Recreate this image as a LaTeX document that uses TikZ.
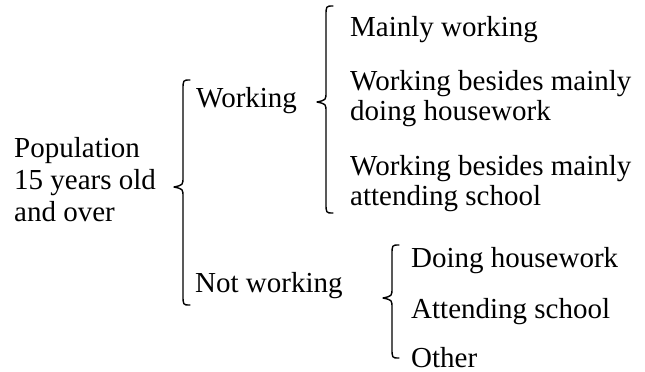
\documentclass[tikz,border=0pt]{standalone}
\usepackage{fontspec}
\setmainfont{Liberation Serif}
\newfontfamily\tnrfont{Liberation Serif}
\newcommand\mycurly[4]{% xe, top, bottom, mid
  \draw[bracestyle] (#1,#2) .. controls ({#1-7},#2) .. ({#1-7},{#2+10})
    -- ({#1-7},{#4-10}) .. controls ({#1-7},{#4-2}) .. ({#1-16},#4)
    .. controls ({#1-7},{#4+2}) .. ({#1-7},{#4+10})
    -- ({#1-7},{#3-10}) .. controls ({#1-7},#3) .. (#1,#3);}
\begin{document}
\begin{tikzpicture}[x=1pt,y=-1pt,
  lbl/.style={anchor=base west,inner sep=0pt,font=\tnrfont\fontsize{29}{32}\selectfont},
  bracestyle/.style={line width=1.4pt,line cap=round,line join=round}]
\useasboundingbox (0,0) rectangle (645,372);
% left label
\node[lbl] (pop1) at (14,157) {Population};
\node[lbl] (pop2) at (14,189) {15 years old};
\node[lbl] (pop3) at (14,221) {and over};
% level 1
\node[lbl] (work) at (196,107) {Working};
\node[lbl] (notw) at (195,292) {Not working};
% working items
\node[lbl] (mw) at (350,36) {Mainly working};
\node[lbl] (wh1) at (350,90) {Working besides mainly};
\node[lbl] (wh2) at (350,120) {doing housework};
\node[lbl] (ws1) at (350,175) {Working besides mainly};
\node[lbl] (ws2) at (350,205) {attending school};
% not working items
\node[lbl] (dh) at (411,267) {Doing housework};
\node[lbl] (as) at (411,318) {Attending school};
\node[lbl] (ot) at (411,367) {Other};
% braces
\mycurly{190}{80}{305}{187}
\mycurly{333}{6}{213}{102}
\mycurly{399}{245}{358}{298}
\end{tikzpicture}
\end{document}
